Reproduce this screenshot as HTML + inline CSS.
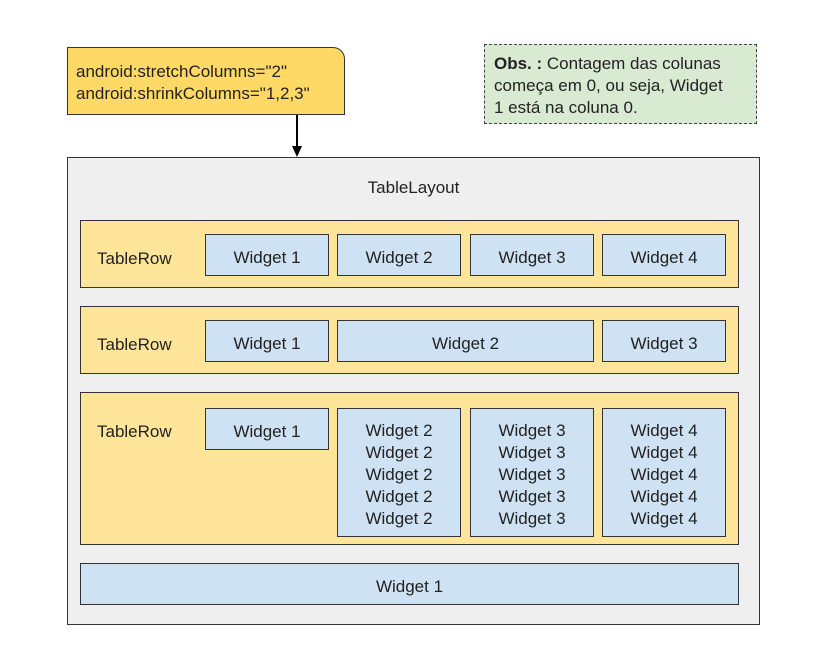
<!DOCTYPE html>
<html><head><style>
body{margin:0;width:822px;height:667px;background:#fff;font-family:"Liberation Sans",sans-serif;position:relative;overflow:hidden;color:#222}
div{position:absolute;box-sizing:border-box}
.w{background:#cfe2f3;border:1.5px solid #333;display:flex;align-items:center;justify-content:center;text-align:center;font-size:17px;line-height:22px;padding-top:6px}
.r{background:#ffe599;border:1.5px solid #333}
.lbl{font-size:17px}
</style></head><body>
<div style="left:67px;top:47px;width:278px;height:68px;background:#ffd966;border:1.5px solid #333;border-top-right-radius:12px;font-size:17px;line-height:22px;padding:13px 0 0 8px">android:stretchColumns="2"<br>android:shrinkColumns="1,2,3"</div>
<div style="left:296px;top:115px;width:2px;height:33px;background:#000"></div>
<div style="left:292px;top:146px;width:0;height:0;border-left:5px solid transparent;border-right:5px solid transparent;border-top:11px solid #000"></div>
<div style="left:484px;top:44px;width:273px;height:80px;background:#d9ead3;border:1.5px dashed #444;font-size:17px;line-height:22px;padding:8px 0 0 9px"><b>Obs. :</b> Contagem das colunas começa em 0, ou seja, Widget<br>1 está na coluna 0.</div>
<div style="left:67px;top:157px;width:693px;height:468px;background:#efefef;border:1.5px solid #333"></div>
<div class="lbl" style="left:67px;top:178px;width:693px;text-align:center">TableLayout</div>

<div class="r" style="left:80px;top:220px;width:659px;height:68px"></div>
<div class="lbl" style="left:97px;top:249px">TableRow</div>
<div class="w" style="left:205px;top:234px;width:124px;height:42px">Widget 1</div>
<div class="w" style="left:337px;top:234px;width:124px;height:42px">Widget 2</div>
<div class="w" style="left:470px;top:234px;width:124px;height:42px">Widget 3</div>
<div class="w" style="left:602px;top:234px;width:124px;height:42px">Widget 4</div>

<div class="r" style="left:80px;top:306px;width:659px;height:68px"></div>
<div class="lbl" style="left:97px;top:335px">TableRow</div>
<div class="w" style="left:205px;top:320px;width:124px;height:42px">Widget 1</div>
<div class="w" style="left:337px;top:320px;width:257px;height:42px">Widget 2</div>
<div class="w" style="left:602px;top:320px;width:124px;height:42px">Widget 3</div>

<div class="r" style="left:80px;top:392px;width:659px;height:153px"></div>
<div class="lbl" style="left:97px;top:422px">TableRow</div>
<div class="w" style="left:205px;top:408px;width:124px;height:42px">Widget 1</div>
<div class="w" style="left:337px;top:408px;width:124px;height:129px;padding-top:4px">Widget 2<br>Widget 2<br>Widget 2<br>Widget 2<br>Widget 2</div>
<div class="w" style="left:470px;top:408px;width:124px;height:129px;padding-top:4px">Widget 3<br>Widget 3<br>Widget 3<br>Widget 3<br>Widget 3</div>
<div class="w" style="left:602px;top:408px;width:124px;height:129px;padding-top:4px">Widget 4<br>Widget 4<br>Widget 4<br>Widget 4<br>Widget 4</div>

<div class="w" style="left:80px;top:563px;width:659px;height:42px">Widget 1</div>
</body></html>
